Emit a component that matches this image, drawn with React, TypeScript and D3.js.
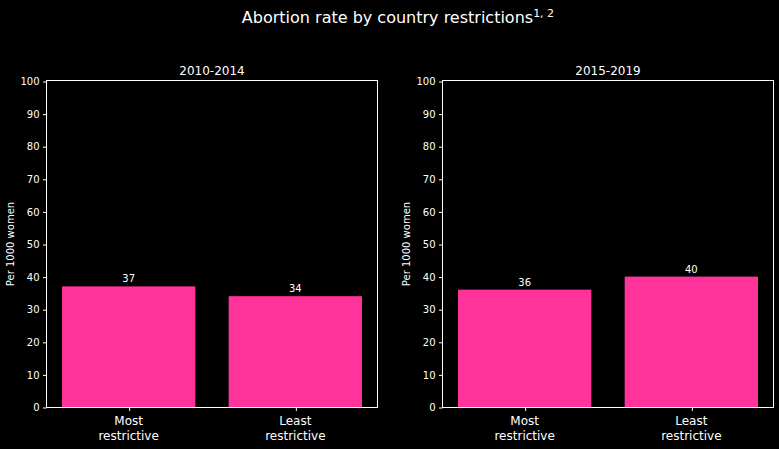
import React, { useEffect, useRef } from 'react';
import * as d3 from 'd3';

const categories = ['Most\nrestrictive', 'Least\nrestrictive'];
const periods = ['2010-2014', '2015-2019'];
const values2010 = [37, 34];
const values2015 = [36, 40];
const yTicks = [0, 10, 20, 30, 40, 50, 60, 70, 80, 90, 100];

const App: React.FC = () => {
    const ref = useRef<SVGSVGElement>(null);

    useEffect(() => {
        const svg = d3.select(ref.current);
        svg.selectAll('*').remove();

        const W = 779, H = 449;
        const font = 'DejaVu Sans, sans-serif';
        const fg = '#ffffff';
        const barColor = '#ff3399';

        svg.append('rect').attr('width', W).attr('height', H).attr('fill', '#000');

        const title = svg.append('text')
            .attr('x', 398).attr('y', 23)
            .attr('text-anchor', 'middle')
            .attr('fill', fg)
            .attr('font-family', font)
            .attr('font-size', 16)
            .text('Abortion rate by country restrictions');
        title.append('tspan')
            .attr('dy', -6)
            .attr('font-size', 11)
            .text('1, 2');

        const panels = [
            { left: 47, title: periods[0], values: values2010 },
            { left: 443, title: periods[1], values: values2015 },
        ];
        const top = 81, bottom = 407, width = 330;

        const y = d3.scaleLinear().domain([0, 100]).range([bottom, top]);

        panels.forEach(p => {
            const x = d3.scaleLinear().domain([-0.49, 1.49]).range([p.left, p.left + width]);
            const g = svg.append('g');

            g.selectAll('.bar')
                .data(p.values)
                .enter().append('rect')
                .attr('x', (_, i) => x(i - 0.4))
                .attr('width', x(0.4) - x(-0.4))
                .attr('y', d => y(d))
                .attr('height', d => y(0) - y(d))
                .attr('fill', barColor);

            g.selectAll('.lbl')
                .data(p.values)
                .enter().append('text')
                .attr('x', (_, i) => x(i))
                .attr('y', d => y(d) - 4)
                .attr('text-anchor', 'middle')
                .attr('fill', fg)
                .attr('font-family', font)
                .attr('font-size', 10)
                .text(d => d);

            // frame, snapped to pixels
            g.append('rect')
                .attr('x', p.left - 0.5).attr('y', top - 0.5)
                .attr('width', width + 1).attr('height', bottom - top + 1)
                .attr('fill', 'none')
                .attr('stroke', fg)
                .attr('stroke-width', 1);

            const yAxis = g.append('g')
                .attr('transform', `translate(${p.left - 0.5},0.5)`)
                .call(d3.axisLeft(y).tickValues(yTicks).tickSize(3.5).tickPadding(3.5));
            const xAxis = g.append('g')
                .attr('transform', `translate(0.5,${bottom + 0.5})`)
                .call(d3.axisBottom(x).tickValues([0, 1]).tickSize(3.5).tickFormat(() => ''));
            [yAxis, xAxis].forEach(a => {
                a.select('.domain').remove();
                a.selectAll('line').attr('stroke', fg).attr('stroke-width', 1);
                a.selectAll('text').attr('fill', fg).attr('font-family', font).attr('font-size', 10);
            });

            categories.forEach((c, i) => {
                const t = g.append('text')
                    .attr('x', x(i)).attr('y', bottom + 18)
                    .attr('text-anchor', 'middle')
                    .attr('fill', fg)
                    .attr('font-family', font)
                    .attr('font-size', 12);
                c.split('\n').forEach((line, j) => {
                    t.append('tspan').attr('x', x(i)).attr('dy', j === 0 ? 0 : 14.5).text(line);
                });
            });

            g.append('text')
                .attr('x', p.left + width / 2).attr('y', top - 6)
                .attr('text-anchor', 'middle')
                .attr('fill', fg)
                .attr('font-family', font)
                .attr('font-size', 12)
                .text(p.title);

            g.append('text')
                .attr('transform', `translate(${p.left - 33},${(top + bottom) / 2}) rotate(-90)`)
                .attr('text-anchor', 'middle')
                .attr('fill', fg)
                .attr('font-family', font)
                .attr('font-size', 10)
                .text('Per 1000 women');
        });
    }, []);

    return <svg ref={ref} width={779} height={449} style={{ position: 'absolute', left: 0, top: 0 }}></svg>;
};

export default App;
